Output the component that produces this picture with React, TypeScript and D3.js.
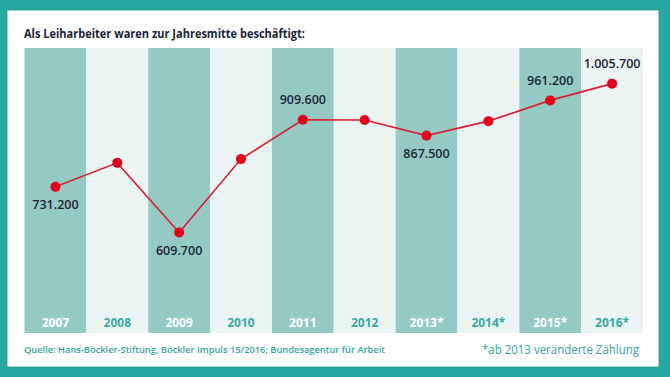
import React from "react";
import * as d3 from "d3";

const years = ["2007", "2008", "2009", "2010", "2011", "2012", "2013*", "2014*", "2015*", "2016*"];
const values = [731200, 795000, 609700, 805000, 909600, 909000, 867500, 906000, 961200, 1005700];
const labels = ["731.200", "", "609.700", "", "909.600", "", "867.500", "", "961.200", "1.005.700"];
const labelAbove = [false, false, false, false, true, false, false, false, true, true];

const title = "Als Leiharbeiter waren zur Jahresmitte beschäftigt:";
const source = "Quelle: Hans-Böckler-Stiftung, Böckler Impuls 15/2016; Bundesagentur für Arbeit";
const note = "*ab 2013 veränderte Zählung";

const W = 670;
const H = 377;
const TEAL = "#25aaa0";
const DARK_COL = "#94cac3";
const LIGHT_COL = "#ebf4f3";
const RED = "#e3001b";
const LINE_RED = "#d42030";
const TEXT_DARK = "#1c2436";
const FONT = "'Open Sans', 'DejaVu Sans', sans-serif";

export default function App() {
  const top = 48;
  const bottom = 333;
  const x = d3.scaleBand<string>().domain(years).range([24.5, 643]).padding(0);
  const y = d3.scaleLinear().domain([342500, 1100500]).range([bottom, top]);
  const line = d3
    .line<number>()
    .x((_, i) => (x(years[i]) as number) + x.bandwidth() / 2)
    .y((d) => y(d));

  return (
    <svg
      width={W}
      height={H}
      style={{ position: "absolute", left: 0, top: 0 }}
      fontFamily={FONT}
    >
      <rect x={0} y={0} width={W} height={H} fill={TEAL} />
      <rect x={7} y={10} width={652} height={357} fill="#ffffff" stroke="#1f9a90" strokeWidth={0.8} />
      <text
        x={24}
        y={38}
        fontSize={13}
        fontWeight={700}
        fill={TEXT_DARK}
        textLength={281}
        lengthAdjust="spacingAndGlyphs"
      >
        {title}
      </text>
      {years.map((yr, i) => (
        <rect
          key={"c" + yr}
          x={x(yr)}
          y={top}
          width={x.bandwidth()}
          height={bottom - top}
          fill={i % 2 === 0 ? DARK_COL : LIGHT_COL}
        />
      ))}
      {years.map((yr, i) => (
        <text
          key={"t" + yr}
          x={(x(yr) as number) + x.bandwidth() / 2}
          y={327}
          textAnchor="middle"
          fontSize={12}
          fontWeight={700}
          fill={i % 2 === 0 ? "#ffffff" : "#3aa79e"}
        >
          {yr}
        </text>
      ))}
      <path d={line(values) || ""} fill="none" stroke={LINE_RED} strokeWidth={1.6} />
      {values.map((v, i) => (
        <circle
          key={"p" + i}
          cx={(x(years[i]) as number) + x.bandwidth() / 2}
          cy={y(v)}
          r={5}
          fill={RED}
        />
      ))}
      {values.map((v, i) =>
        labels[i] ? (
          <text
            key={"l" + i}
            x={(x(years[i]) as number) + x.bandwidth() / 2}
            y={labelAbove[i] ? y(v) - 15.5 : y(v) + 22.5}
            textAnchor="middle"
            fontSize={12.5}
            fontWeight={600}
            fill={TEXT_DARK}
          >
            {labels[i]}
          </text>
        ) : null
      )}
      <text
        x={24}
        y={353}
        fontSize={9.5}
        fontWeight={600}
        fill="#2fa69c"
        textLength={361}
        lengthAdjust="spacingAndGlyphs"
      >
        {source}
      </text>
      <text
        x={639}
        y={354}
        textAnchor="end"
        fontSize={12}
        fill="#2fa69c"
        textLength={157}
        lengthAdjust="spacingAndGlyphs"
      >
        {note}
      </text>
    </svg>
  );
}
